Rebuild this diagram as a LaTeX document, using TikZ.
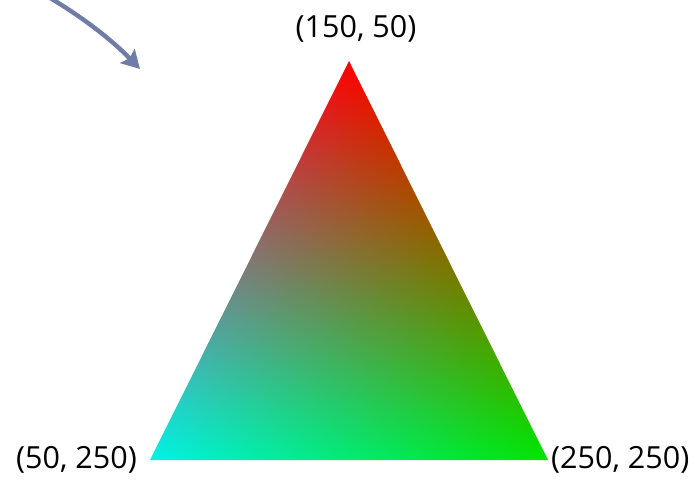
\documentclass[tikz,border=0pt]{standalone}
\usepackage{fontspec}
\setmainfont{Open Sans}
\usetikzlibrary{arrows.meta}
\definecolor{arrowblue}{RGB}{112,123,168}
\pgfdeclarefunctionalshading{baryshade}{\pgfpoint{0bp}{0bp}}{\pgfpoint{100bp}{100bp}}{}{
  exch 25 sub 50 div
  exch 25 sub 50 div
  exch
  1 index 2 div sub
  2 copy add 1 exch sub
  3 1 roll
  0.9 mul
  2 index 0.95 mul add
  3 2 roll
  0.9 mul
}
\tikzset{
  lbl/.style={font=\fontsize{30.5}{34}\selectfont, text=black, inner sep=0pt},
  pointer/.style={draw=arrowblue, line width=4.4pt, -{Stealth[length=18pt,width=20pt,inset=3pt]}}
}
\begin{document}
\begin{tikzpicture}[x=1pt,y=-1pt]
\useasboundingbox (0,0) rectangle (698,479);
\coordinate (top) at (349,61);
\coordinate (bl) at (150,460);
\coordinate (br) at (548,460);
\shade[shading=baryshade] (top) -- (bl) -- (br) -- cycle;
\node[lbl, anchor=base] (ltop) at (356,37) {(150, 50)};
\node[lbl, anchor=base west] (lbl) at (16,468) {(50, 250)};
\node[lbl, anchor=base west] (lbr) at (551,468) {(250, 250)};
\coordinate (arrstart) at (40,-8);
\coordinate (arrend) at (140,69);
\draw[pointer] (arrstart) .. controls (75,12) and (108,36) .. (arrend);
\end{tikzpicture}
\end{document}
